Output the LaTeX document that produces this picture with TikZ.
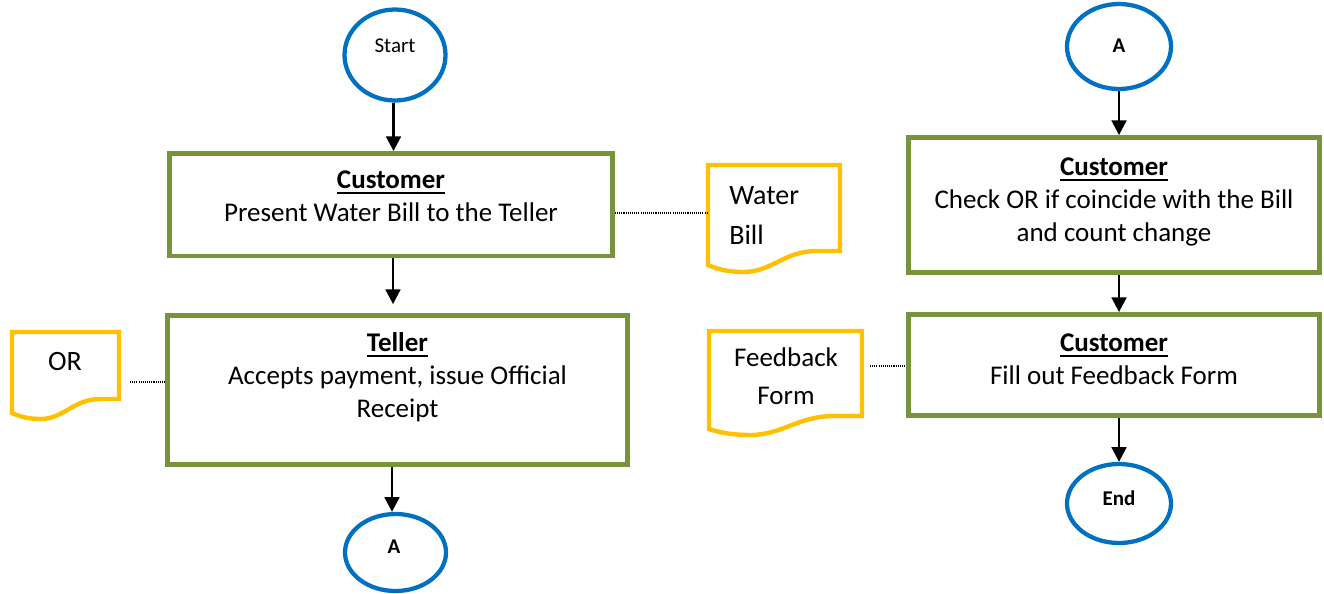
\documentclass[tikz,border=0pt]{standalone}
\usepackage{fontspec}
\setmainfont{Carlito}
\usetikzlibrary{shapes.geometric,arrows.meta}

\definecolor{boxgreen}{RGB}{119,147,60}
\definecolor{termblue}{RGB}{0,112,192}
\definecolor{docyellow}{RGB}{255,192,0}

% one drawing unit
\newcommand\pxu{0.75pt}
% bold underlined heading of a process box
\newcommand\hdr[1]{\vtop{\hbox{\bfseries #1}\kern2.2pt\hrule height 1.5pt}}
% document symbol: left, top, right, right-bottom, left-bottom, lowest point of the wave
\newcommand\docoutline[6]{%
  \draw[docline] (#1,#2) -- (#3,#2) -- (#3,#4)
    -- ({#3-0.18*(#3-#1)},#4)
    .. controls ({#3-0.42*(#3-#1)},#4) and ({#1+0.48*(#3-#1)},#6) .. ({#1+0.27*(#3-#1)},#6)
    .. controls ({#1+0.14*(#3-#1)},#6) and ({#1+0.06*(#3-#1)},{#5+0.5*(#6-#5)}) .. (#1,#5)
    -- cycle;}

\tikzset{
  x=0.75pt, y=-0.75pt,
  procbox/.style={draw=boxgreen, line width=3.6pt, rectangle, inner sep=0pt},
  terminal/.style={draw=termblue, line width=3.2pt, ellipse, inner sep=0pt},
  boxtext/.style={inner sep=0pt, align=center, anchor=north,
    font=\fontsize{20.25pt}{24.75pt}\selectfont},
  termtext/.style={inner sep=0pt, anchor=base,
    font=\fontsize{15.75pt}{18pt}\selectfont},
  doctext/.style={inner sep=0pt, font=\fontsize{21pt}{30pt}\selectfont},
  flow/.style={line width=2pt, -{Triangle[length=11pt,width=11pt]}},
  link/.style={line width=0.8pt, dash pattern=on 0.8pt off 0.8pt},
  docline/.style={draw=docyellow, line width=3.3pt, fill=white},
}

\begin{document}
\begin{tikzpicture}
\useasboundingbox (0,0) rectangle (1324,593);

% ---------- left column ----------
\node[terminal, minimum width=101*\pxu, minimum height=91*\pxu] (start) at (395,55) {};
\node[termtext] (startlbl) at (395,52.5) {Start};

\node[procbox, minimum width=443*\pxu, minimum height=102.5*\pxu] (box1) at (391,204.75) {};
\node[boxtext] (box1txt) at (391,165) {\strut\hdr{Customer}\\Present Water Bill to the Teller};

\node[procbox, minimum width=460*\pxu, minimum height=149*\pxu] (box2) at (397.5,390) {};
\node[boxtext] (box2txt) at (397.5,328) {\strut\hdr{Teller}\\Accepts payment, issue Official\\Receipt};

\node[terminal, minimum width=101*\pxu, minimum height=77*\pxu] (aleft) at (395.5,552.5) {};
\node[termtext, font=\fontsize{15.75pt}{18pt}\selectfont\bfseries] (aleftlbl) at (394,553.5) {A};

% documents
\docoutline{708}{165}{840}{251}{265}{272}
\node[doctext, align=left, anchor=north west] (wbtxt) at (729,176) {\strut Water\\Bill};

\docoutline{12}{332}{119}{399}{413}{419}
\node[doctext, anchor=base] (ortxt) at (65,370) {OR};

\docoutline{709}{331}{862}{416}{429}{435}
\node[doctext, align=center, anchor=north, font=\fontsize{20.25pt}{28.5pt}\selectfont] (fbtxt) at (786,339.4) {\strut Feedback\\Form};

% ---------- right column ----------
\node[terminal, minimum width=104*\pxu, minimum height=85*\pxu] (aright) at (1119,46.5) {};
\node[termtext, font=\fontsize{15.75pt}{18pt}\selectfont\bfseries] (arightlbl) at (1119,52) {A};

\node[procbox, minimum width=411*\pxu, minimum height=135*\pxu] (box3) at (1114,205) {};
\node[boxtext] (box3txt) at (1114,152) {\strut\hdr{Customer}\\Check OR if coincide with the Bill\\and count change};

\node[procbox, minimum width=411*\pxu, minimum height=101*\pxu] (box4) at (1114,365) {};
\node[boxtext] (box4txt) at (1114,328) {\strut\hdr{Customer}\\Fill out Feedback Form};

\node[terminal, minimum width=104*\pxu, minimum height=79*\pxu] (endn) at (1119,503.5) {};
\node[termtext, font=\fontsize{15.75pt}{18pt}\selectfont\bfseries] (endlbl) at (1119,505) {End};

% ---------- flow arrows ----------
\draw[flow] ([xshift=-1.5*\pxu]start.south) -- ([xshift=-1.5*\pxu]start.south |- box1.north);
\draw[flow, shorten >=9*\pxu] ([xshift=2*\pxu]box1.south) -- ([xshift=2*\pxu]box1.south |- box2.north);
\draw[flow] ([xshift=-3.5*\pxu]aleft.north |- box2.south) -- ([xshift=-3.5*\pxu]aleft.north);

\draw[flow] (aright.south) -- (aright.south |- box3.north);
\draw[flow] (box3.south -| aright) -- (box4.north -| aright);
\draw[flow] (box4.south -| endn) -- (endn.north);

% ---------- annotation links ----------
\coordinate (wbtip) at (708,213);
\draw[link] (box1.east |- wbtip) -- (wbtip);
\coordinate (ortip) at (130,382);
\draw[link] (ortip) -- (ortip -| box2.west);
\coordinate (fbtip) at (870,366);
\draw[link] (fbtip) -- (fbtip -| box4.west);
\end{tikzpicture}
\end{document}
